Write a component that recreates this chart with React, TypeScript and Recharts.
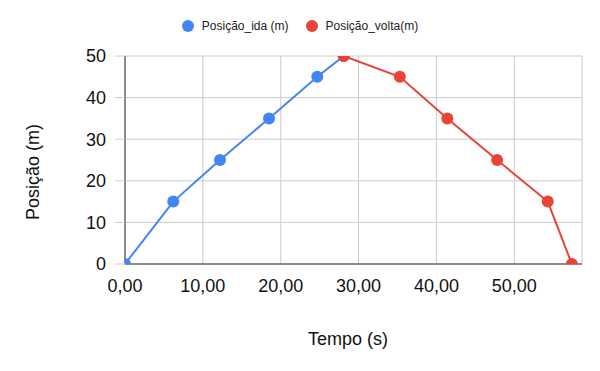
import { LineChart, Line, XAxis, YAxis, CartesianGrid, Legend } from "recharts";

const idaTempo = [0, 6.2, 12.2, 18.5, 24.7, 28.1];
const idaPosicao = [0, 15, 25, 35, 45, 50];
const voltaTempo = [28.1, 35.3, 41.4, 47.8, 54.3, 57.4];
const voltaPosicao = [50, 45, 35, 25, 15, 0];
const xTicks = [0, 10, 20, 30, 40, 50];
const yTicks = [0, 10, 20, 30, 40, 50];

const BLUE = "#4285F4";
const RED = "#EA4335";
const FONT = "'Liberation Sans', Arial, sans-serif";

const idaData = idaTempo.map((t, i) => ({ t, pos: idaPosicao[i] }));
const voltaData = voltaTempo.map((t, i) => ({ t, pos: voltaPosicao[i] }));

function fmtTick(v: number) {
  return v.toFixed(2).replace(".", ",");
}

function CustomLegend() {
  const items = [
    { name: "Posição_ida (m)", color: BLUE },
    { name: "Posição_volta(m)", color: RED },
  ];
  return (
    <div style={{ display: "flex", justifyContent: "center", fontFamily: FONT, fontSize: 12, color: "#222", height: 14, lineHeight: "14px" }}>
      {items.map((it, i) => (
        <div key={it.name} style={{ display: "flex", alignItems: "center", marginLeft: i ? 17 : 0 }}>
          <span style={{ width: 12, height: 12, borderRadius: 6, background: it.color, marginRight: 8, display: "inline-block" }} />
          <span>{it.name}</span>
        </div>
      ))}
    </div>
  );
}

export default function App() {
  return (
    <div style={{ position: "absolute", left: 0, top: 0, background: "#fff" }}>
      <LineChart width={600} height={371} margin={{ top: 42, right: 18, bottom: 0, left: 0 }}>
        <CartesianGrid stroke="#cccccc" />
        <XAxis
          type="number"
          dataKey="t"
          domain={[0, 58.7]}
          ticks={xTicks}
          tickFormatter={fmtTick}
          allowDataOverflow
          height={107}
          stroke="#333"
          tickLine={false}
          tick={{ fill: "#111", fontSize: 18, fontFamily: FONT }}
          tickMargin={9}
          label={{
            content: () => (
              <text x={348} y={345} textAnchor="middle" fontSize={18} fontFamily={FONT} fill="#111">
                Tempo (s)
              </text>
            ),
          }}
        />
        <YAxis
          type="number"
          dataKey="pos"
          domain={[0, 50]}
          ticks={yTicks}
          allowDataOverflow
          width={125}
          axisLine={{ stroke: "#333" }}
          tickLine={{ stroke: "#cccccc" }}
          tickSize={10}
          tickMargin={9}
          tick={{ fill: "#111", fontSize: 18, fontFamily: FONT }}
          label={{
            content: () => (
              <text
                x={39}
                y={172}
                textAnchor="middle"
                fontSize={18}
                fontFamily={FONT}
                fill="#111"
                transform="rotate(-90 39 172)"
              >
                Posição (m)
              </text>
            ),
          }}
        />
        <Legend verticalAlign="top" wrapperStyle={{ top: 19, left: 0, width: 600 }} content={<CustomLegend />} />
        <Line
          data={idaData}
          dataKey="pos"
          name="Posição_ida (m)"
          stroke={BLUE}
          strokeWidth={2}
          dot={{ r: 6, fill: BLUE, stroke: BLUE, strokeWidth: 0, clipDot: true }}
          isAnimationActive={false}
        />
        <Line
          data={voltaData}
          dataKey="pos"
          name="Posição_volta(m)"
          stroke={RED}
          strokeWidth={2}
          dot={{ r: 6, fill: RED, stroke: RED, strokeWidth: 0, clipDot: true }}
          isAnimationActive={false}
        />
      </LineChart>
    </div>
  );
}
